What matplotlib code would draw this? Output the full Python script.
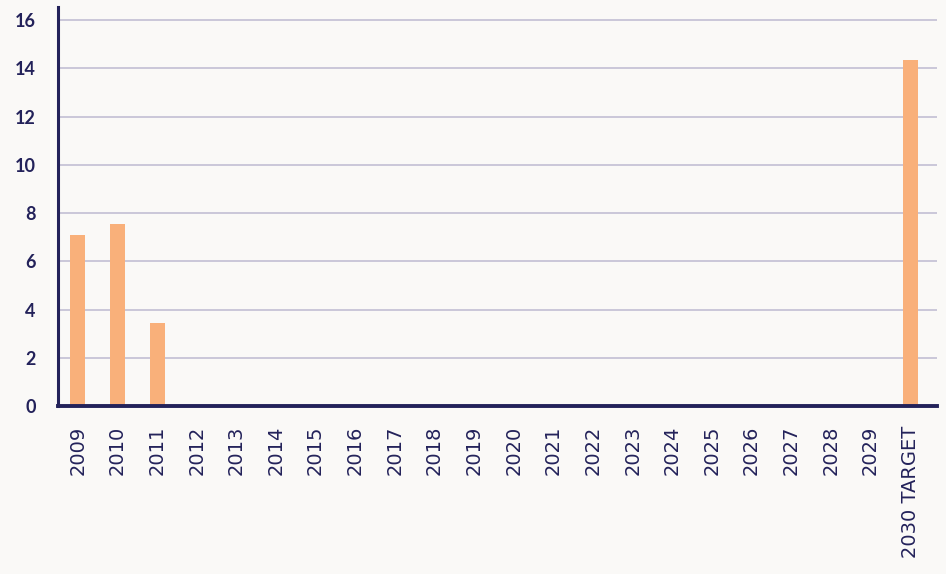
import matplotlib
matplotlib.use("Agg")
import matplotlib.pyplot as plt

categories = [str(y) for y in range(2009, 2030)] + ["2030 TARGET"]
values = [7.1, 7.55, 3.45] + [0] * 18 + [14.35]
yticks = [0, 2, 4, 6, 8, 10, 12, 14, 16]

navy = "#23225a"
bar_color = "#f9b07a"
grid_color = "#bdbad0"
bg = "#faf9f7"

fig = plt.figure(figsize=(9.46, 5.74), dpi=100, facecolor=bg)
ax = fig.add_axes([0.0613, 0.2927, 0.9292, 0.6951], facecolor=bg)

x = list(range(len(categories)))
ax.bar(x, values, width=0.38, color=bar_color, zorder=3)

ax.set_ylim(0, 16.55)
ax.set_xlim(-0.5, 21.68)
ax.set_yticks(yticks)
ax.set_yticklabels([str(t) for t in yticks], fontfamily="Lato", fontweight="bold",
                   fontsize=13, color=navy)
ax.set_xticks(x)
ax.set_xticklabels(categories, rotation=90, fontfamily="DejaVu Sans", fontsize=14,
                   color=navy)
ax.tick_params(axis="both", length=0)
ax.tick_params(axis="y", pad=16)
ax.tick_params(axis="x", pad=14)

ax.yaxis.grid(True, color=grid_color, linewidth=1.1, zorder=0)
ax.set_axisbelow(True)
for s in ["top", "right"]:
    ax.spines[s].set_visible(False)
ax.spines["left"].set_color(navy)
ax.spines["left"].set_linewidth(2.2)
ax.spines["bottom"].set_color(navy)
ax.spines["bottom"].set_linewidth(2.8)
ax.spines["bottom"].set_zorder(4)

fig.savefig("out.png", dpi=100, facecolor=bg)
